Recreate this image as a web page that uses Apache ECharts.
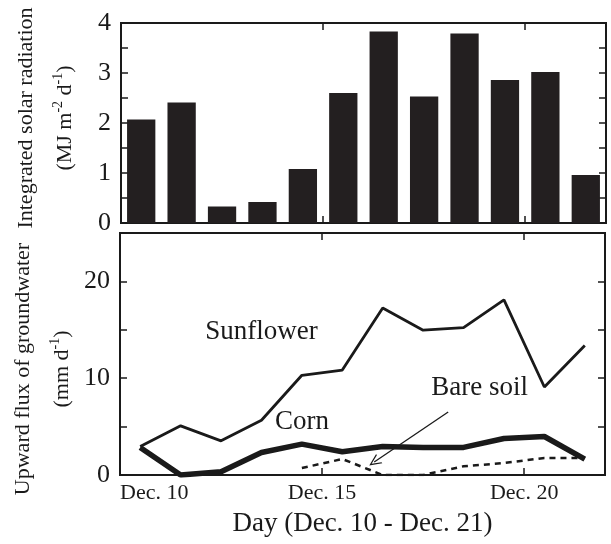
<!DOCTYPE html>
<html>
<head>
<meta charset="utf-8">
<script src="https://cdn.jsdelivr.net/npm/echarts@6/dist/echarts.min.js"></script>
<style>
  html, body { margin: 0; padding: 0; background: #fff; }
  #chart { width: 611px; height: 544px; }
</style>
</head>
<body>
<div id="chart"></div>
<script>
// data
const days = ['Dec. 10', 'Dec. 11', 'Dec. 12', 'Dec. 13', 'Dec. 14', 'Dec. 15',
  'Dec. 16', 'Dec. 17', 'Dec. 18', 'Dec. 19', 'Dec. 20', 'Dec. 21'];
const radiation = [2.07, 2.41, 0.33, 0.42, 1.08, 2.60, 3.83, 2.53, 3.79, 2.86, 3.02, 0.96];
const sunflower = [2.95, 5.08, 3.53, 5.66, 10.3, 10.84, 17.26, 14.96, 15.23, 18.1, 9.09, 13.38];
const corn = [2.85, 0, 0.34, 2.33, 3.19, 2.4, 2.95, 2.85, 2.85, 3.77, 3.98, 1.65];
const bareSoil = [null, null, null, null, 0.72, 1.65, 0, 0, 0.9, 1.24, 1.76, 1.76];
const dayTicks = ['Dec. 10', 'Dec. 15', 'Dec. 20'];
const radTicks = [0, 1, 2, 3, 4];
const fluxTicks = [0, 10, 20];

const serif = 'Liberation Serif';
const ink = '#1a1a1a';

let chart = echarts.init(document.getElementById('chart'));

function xy(arr) {
  return arr.map((v, i) => [i, v]).filter(d => d[1] !== null);
}

// day axis: ticks every 5 days starting from the left edge
function dayLabel(v) {
  let k = Math.round((v + 0.5) / 5);
  if (Math.abs(v - (-0.5 + 5 * k)) < 1e-6 && k < dayTicks.length) return dayTicks[k];
  return '';
}

const tickOnly = {
  type: 'value', min: -0.5, max: 11.5, interval: 5,
  axisLine: { show: false, onZero: false },
  axisTick: { show: true, inside: true, length: 7, lineStyle: { color: ink, width: 1.5 } },
  axisLabel: { show: false },
  splitLine: { show: false }
};

// namePad shifts the rotated title along the axis (left pad = up, right pad = down)
function yAxisOf(grid, pos, min, max, interval, ticks, withLabels, name, namePad) {
  return {
    type: 'value', gridIndex: grid, position: pos, min: min, max: max, interval: interval,
    axisLine: { show: false, onZero: false },
    axisTick: { show: true, inside: true, length: 7, lineStyle: { color: ink, width: 1.5 } },
    axisLabel: {
      show: withLabels, margin: 10, color: ink, fontFamily: serif, fontSize: 26,
      formatter: v => ticks.includes(v) ? String(v) : ''
    },
    splitLine: { show: false },
    name: name || '',
    nameLocation: 'middle',
    nameGap: 36,
    nameTextStyle: {
      padding: namePad || 0,
      rich: {
        t: { fontFamily: serif, fontSize: 22, lineHeight: 39, color: ink },
        s: { fontFamily: serif, fontSize: 14, color: ink, padding: [0, 0, 14, 0] }
      }
    }
  };
}

chart.setOption({
  animation: false,
  grid: [
    { left: 121, top: 23, width: 485, height: 200, show: true, borderColor: ink, borderWidth: 2, backgroundColor: 'transparent' },
    { left: 120, top: 233, width: 485, height: 242, show: true, borderColor: ink, borderWidth: 2, backgroundColor: 'transparent' }
  ],
  xAxis: [
    { type: 'category', gridIndex: 0, data: days, show: false },
    Object.assign({}, tickOnly, { gridIndex: 0, position: 'bottom' }),
    Object.assign({}, tickOnly, { gridIndex: 0, position: 'top' }),
    Object.assign({}, tickOnly, {
      gridIndex: 1, position: 'bottom',
      axisLabel: {
        show: true, margin: 7, color: ink, fontFamily: serif, fontSize: 22,
        alignMinLabel: 'left', formatter: dayLabel
      },
      name: 'Day (Dec. 10 - Dec. 21)',
      nameLocation: 'middle',
      nameGap: 35,
      nameTextStyle: { color: ink, fontFamily: serif, fontSize: 27 }
    }),
    Object.assign({}, tickOnly, { gridIndex: 1, position: 'top' })
  ],
  yAxis: [
    yAxisOf(0, 'left', 0, 4, 0.5, radTicks, true,
      '{t|Integrated solar radiation}\n{t|(MJ m}{s|-2}{t| d}{s|-1}{t|)}', [0, 0, 0, 10]),
    yAxisOf(0, 'right', 0, 4, 0.5, radTicks, false),
    yAxisOf(1, 'left', 0, 25, 5, fluxTicks, true,
      '{t|Upward flux of groundwater}\n{t|(mm d}{s|-1}{t|)}', [0, 30, 0, 0]),
    yAxisOf(1, 'right', 0, 25, 5, fluxTicks, false)
  ],
  series: [
    {
      name: 'Radiation', type: 'bar', xAxisIndex: 0, yAxisIndex: 0,
      data: radiation, barWidth: '70%',
      itemStyle: { color: '#231f20' }
    },
    {
      name: 'Sunflower', type: 'line', xAxisIndex: 3, yAxisIndex: 2,
      data: xy(sunflower), symbol: 'none',
      lineStyle: { color: ink, width: 2.8 },
      markPoint: {
        symbol: 'rect', symbolSize: 0, silent: true,
        label: { show: true, position: 'inside', formatter: '{b}', color: ink, fontFamily: serif, fontSize: 27 },
        data: [{ name: 'Sunflower', coord: [3.0, 14.8] }]
      }
    },
    {
      name: 'Corn', type: 'line', xAxisIndex: 3, yAxisIndex: 2,
      data: xy(corn), symbol: 'none',
      lineStyle: { color: ink, width: 5.5 },
      markPoint: {
        symbol: 'rect', symbolSize: 0, silent: true,
        label: { show: true, position: 'inside', formatter: '{b}', color: ink, fontFamily: serif, fontSize: 27 },
        data: [{ name: 'Corn', coord: [4.0, 5.5] }]
      }
    },
    {
      name: 'Bare soil', type: 'line', xAxisIndex: 3, yAxisIndex: 2,
      data: xy(bareSoil), symbol: 'none',
      lineStyle: { color: ink, width: 2.5, type: [6, 5] },
      markPoint: {
        symbol: 'rect', symbolSize: 0, silent: true,
        label: { show: true, position: 'inside', formatter: '{b}', color: ink, fontFamily: serif, fontSize: 27 },
        data: [{ name: 'Bare soil', coord: [8.4, 9.0] }]
      },
      markLine: {
        silent: true,
        symbol: ['none', 'path://M5,0 L10,10 L8.8,10 L5,2.4 L1.2,10 L0,10 Z'],
        symbolSize: [11, 12],
        label: { show: false },
        lineStyle: { color: ink, width: 1.3, type: 'solid' },
        data: [[{ coord: [7.62, 6.5] }, { coord: [5.79, 1.34] }]]
      }
    }
  ]
});
</script>
</body>
</html>
